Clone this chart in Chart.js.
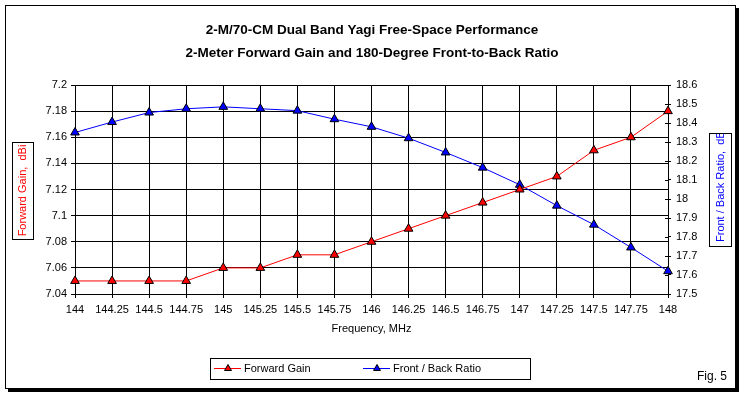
<!DOCTYPE html>
<html>
<head>
<meta charset="utf-8">
<script src="https://cdn.jsdelivr.net/npm/chart.js@4/dist/chart.umd.min.js"></script>
<style>
  html, body { margin: 0; padding: 0; background: #fff; }
  canvas { display: block; }
</style>
</head>
<body>
<canvas id="chart" width="744" height="396"></canvas>
<script>
// Data
const frequencies = ['144', '144.25', '144.5', '144.75', '145', '145.25', '145.5', '145.75', '146',
  '146.25', '146.5', '146.75', '147', '147.25', '147.5', '147.75', '148'];
const forwardGain = [7.05, 7.05, 7.05, 7.05, 7.06, 7.06, 7.07, 7.07, 7.08,
  7.09, 7.10, 7.11, 7.12, 7.13, 7.15, 7.16, 7.18];
const frontToBack = [18.35, 18.405, 18.455, 18.475, 18.485, 18.475, 18.465, 18.42, 18.38,
  18.32, 18.245, 18.165, 18.075, 17.965, 17.865, 17.745, 17.62];
const gainTicks = [7.04, 7.06, 7.08, 7.1, 7.12, 7.14, 7.16, 7.18, 7.2];
const ratioTicks = [17.5, 17.6, 17.7, 17.8, 17.9, 18, 18.1, 18.2, 18.3, 18.4, 18.5, 18.6];
const titleLines = ['2-M/70-CM Dual Band Yagi Free-Space Performance',
  '2-Meter Forward Gain and 180-Degree Front-to-Back Ratio'];

const FONT = '"Liberation Sans", Arial, sans-serif';
const RED = '#ff0000';
const BLUE = '#0000ff';

// frame, boxed axis titles, legend, figure label
const decorations = {
  id: 'decorations',
  beforeDraw(chart) {
    const ctx = chart.ctx;
    ctx.save();
    ctx.fillStyle = '#fff';
    ctx.fillRect(0, 0, chart.width, chart.height);
    ctx.fillStyle = '#000';
    ctx.fillRect(8, 8, 731, 384);
    ctx.fillStyle = '#fff';
    ctx.fillRect(5, 5, 731, 384);
    ctx.strokeStyle = '#000';
    ctx.lineWidth = 1;
    ctx.strokeRect(5.5, 5.5, 730, 383);
    ctx.restore();
  },
  afterDraw(chart) {
    const ctx = chart.ctx;
    const area = chart.chartArea;
    ctx.save();
    ctx.lineWidth = 1;
    ctx.strokeStyle = '#000';

    // right axis ticks also cross into the plot
    const y2 = chart.scales.y2;
    ratioTicks.forEach(v => {
      const y = Math.round(y2.getPixelForValue(v)) + 0.5;
      ctx.beginPath();
      ctx.moveTo(area.right - 3, y);
      ctx.lineTo(area.right, y);
      ctx.stroke();
    });

    ctx.font = '11px ' + FONT;
    ctx.textBaseline = 'middle';

    // left axis title
    ctx.fillStyle = '#fff';
    ctx.fillRect(12, 142, 21, 97);
    ctx.strokeRect(12.5, 142.5, 21, 97);
    ctx.save();
    ctx.translate(23, 190.5);
    ctx.rotate(-Math.PI / 2);
    ctx.fillStyle = RED;
    ctx.textAlign = 'center';
    ctx.fillText('Forward Gain,  dBi', 0, 0);
    ctx.restore();

    // right axis title (clipped by its box like the original)
    ctx.fillStyle = '#fff';
    ctx.fillRect(709, 133, 22, 113);
    ctx.strokeRect(709.5, 133.5, 22, 113);
    ctx.save();
    ctx.beginPath();
    ctx.rect(710, 134, 21, 112);
    ctx.clip();
    ctx.translate(721, 242);
    ctx.rotate(-Math.PI / 2);
    ctx.fillStyle = BLUE;
    ctx.textAlign = 'left';
    ctx.fillText('Front / Back Ratio,  dBi', 0, 0);
    ctx.restore();

    // legend
    ctx.fillStyle = '#fff';
    ctx.fillRect(210, 358, 320, 21);
    ctx.strokeRect(210.5, 358.5, 320, 21);
    const legendX = [214, 363];
    chart.data.datasets.forEach((ds, i) => {
      const x = legendX[i];
      const y = 368.5;
      ctx.strokeStyle = ds.borderColor;
      ctx.beginPath();
      ctx.moveTo(x, y);
      ctx.lineTo(x + 27, y);
      ctx.stroke();
      ctx.fillStyle = ds.pointBackgroundColor;
      ctx.strokeStyle = '#000';
      Chart.helpers.drawPoint(ctx, { pointStyle: 'triangle', radius: 4, borderWidth: 1 }, x + 14, y);
      ctx.fillStyle = '#000';
      ctx.textAlign = 'left';
      ctx.fillText(ds.label, x + 30, y);
    });

    ctx.fillStyle = '#000';
    ctx.font = '12px ' + FONT;
    ctx.textAlign = 'left';
    ctx.fillText('Fig. 5', 697, 377);
    ctx.restore();
  }
};

const tickFont = { family: FONT, size: 11 };

new Chart(document.getElementById('chart'), {
  type: 'line',
  data: {
    labels: frequencies,
    datasets: [
      {
        label: 'Forward Gain',
        data: forwardGain,
        yAxisID: 'y',
        borderColor: RED,
        borderWidth: 1,
        pointStyle: 'triangle',
        pointRadius: 5,
        pointBackgroundColor: RED,
        pointBorderColor: '#000',
        pointBorderWidth: 1,
        tension: 0,
        clip: false
      },
      {
        label: 'Front / Back Ratio',
        data: frontToBack,
        yAxisID: 'y2',
        borderColor: BLUE,
        borderWidth: 1,
        pointStyle: 'triangle',
        pointRadius: 5,
        pointBackgroundColor: BLUE,
        pointBorderColor: '#000',
        pointBorderWidth: 1,
        tension: 0,
        clip: false
      }
    ]
  },
  options: {
    responsive: false,
    animation: false,
    devicePixelRatio: 1,
    layout: { padding: 0 },
    plugins: {
      legend: { display: false },
      tooltip: { enabled: false },
      title: {
        display: true,
        text: titleLines,
        color: '#000',
        font: { family: FONT, size: 13.5, weight: 'bold', lineHeight: '23px' },
        padding: { top: 18.5, bottom: 20.5 }
      }
    },
    scales: {
      x: {
        type: 'category',
        offset: false,
        grid: { color: '#000', lineWidth: 1, tickLength: 4 },
        border: { color: '#000', width: 1 },
        ticks: { color: '#000', font: tickFont, padding: 5, autoSkip: false, maxRotation: 0 },
        title: {
          display: true,
          text: 'Frequency, MHz',
          color: '#000',
          font: tickFont,
          padding: { top: 0, bottom: 60 }
        },
        afterFit: s => { s.height = 102; }
      },
      y: {
        position: 'left',
        min: 7.04,
        max: 7.2,
        afterBuildTicks: s => { s.ticks = gainTicks.map(v => ({ value: v })); },
        grid: { color: '#000', lineWidth: 1, tickLength: 4 },
        border: { color: '#000', width: 1 },
        ticks: { color: '#000', font: tickFont, padding: 4, callback: v => String(+v.toFixed(2)) },
        afterFit: s => { s.width = 75; }
      },
      y2: {
        position: 'right',
        min: 17.5,
        max: 18.6,
        afterBuildTicks: s => { s.ticks = ratioTicks.map(v => ({ value: v })); },
        grid: { drawOnChartArea: false, color: '#000', lineWidth: 1, tickLength: 3 },
        border: { color: '#000', width: 1 },
        ticks: { color: '#000', font: tickFont, padding: 5, callback: v => String(+v.toFixed(1)) },
        afterFit: s => { s.width = 76; }
      }
    }
  },
  plugins: [decorations]
});
</script>
</body>
</html>
